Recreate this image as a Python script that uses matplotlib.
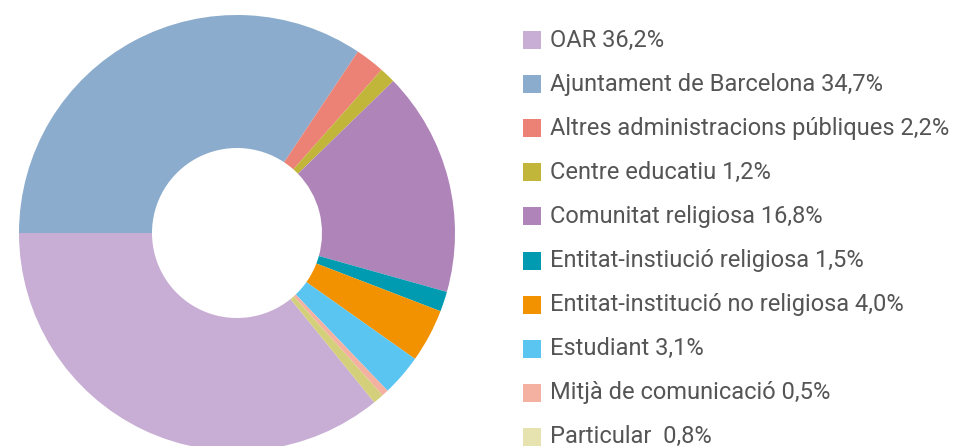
import matplotlib
matplotlib.use("Agg")
import matplotlib.pyplot as plt
from matplotlib.patches import Rectangle

labels = ["OAR", "Ajuntament de Barcelona", "Altres administracions públiques",
          "Centre educatiu", "Comunitat religiosa", "Entitat-instiució religiosa",
          "Entitat-institució no religiosa", "Estudiant", "Mitjà de comunicació",
          "Particular "]
values = [36.2, 34.7, 2.2, 1.2, 16.8, 1.5, 4.0, 3.1, 0.5, 0.8]
colors = ["#c8aed4", "#8baccc", "#ec8275", "#c2b63a", "#af84b9", "#009bb0",
          "#f39200", "#5bc5f2", "#f4b0a0", "#d4cf7a"]
legend_colors = ["#c8aed4", "#8baccc", "#ec8275", "#c2b63a", "#af84b9", "#009bb0",
                 "#f39200", "#5bc5f2", "#f4b0a0", "#e6e3b0"]

W, H = 972, 446
fig = plt.figure(figsize=(W / 100, H / 100), dpi=100)

cx, cy, r = 237, 233, 218
ax = fig.add_axes([(cx - r) / W, (H - cy - r) / H, 2 * r / W, 2 * r / H])
total = sum(values)
start = 180 + 360 * values[0] / total
wedges, _ = ax.pie(values, colors=colors, startangle=start, counterclock=False,
                   radius=1, wedgeprops=dict(width=133 / 218, linewidth=0))
for w in wedges:
    w.set_clip_on(False)
ax.set_xlim(-1, 1)
ax.set_ylim(-1, 1)
ax.set_aspect("equal")
ax.axis("off")

y0, dy = 40, 44.1
for i, (lab, val, col) in enumerate(zip(labels, values, legend_colors)):
    y = y0 + i * dy
    fig.patches.append(Rectangle(((523) / W, (H - y - 9) / H), 18 / W, 18 / H,
                                 transform=fig.transFigure, facecolor=col,
                                 edgecolor="none"))
    txt = f"{lab} {val:.1f}%".replace(".", ",")
    fig.text(550 / W, (H - y) / H, txt, fontsize=17, color="#555555",
             family="Roboto", va="center", ha="left")

fig.savefig("out.png", dpi=100)
